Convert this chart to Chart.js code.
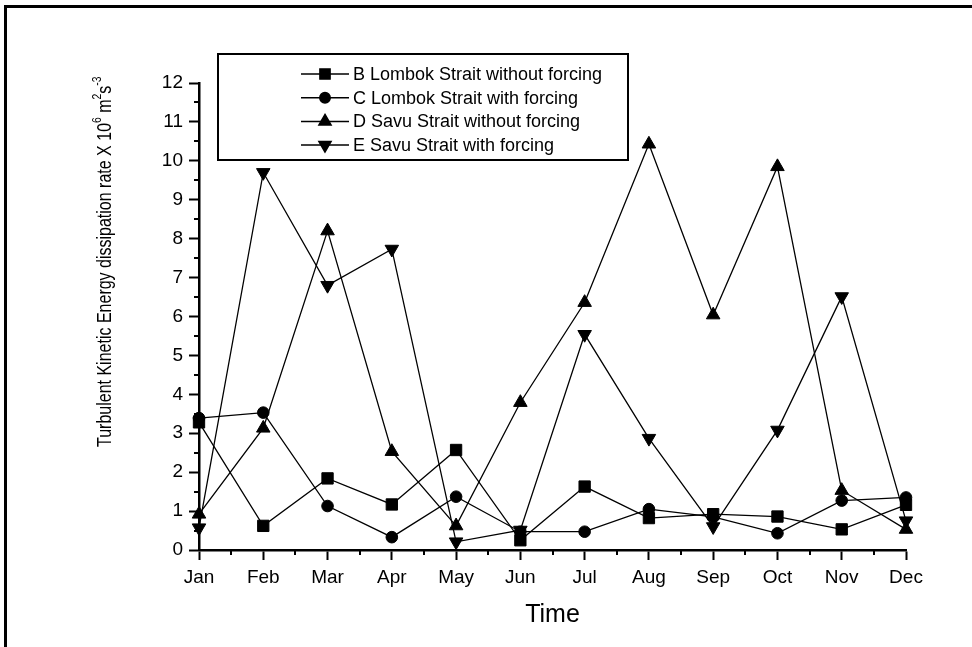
<!DOCTYPE html>
<html>
<head>
<meta charset="utf-8">
<title>Turbulent kinetic energy dissipation rate</title>
<script src="https://cdn.jsdelivr.net/npm/chart.js@4/dist/chart.umd.min.js"></script>
<style>
  html, body { margin: 0; padding: 0; background: #fff; }
  #chart { display: block; }
</style>
</head>
<body>
<canvas id="chart" width="972" height="647"></canvas>
<script>
const months = ["Jan", "Feb", "Mar", "Apr", "May", "Jun", "Jul", "Aug", "Sep", "Oct", "Nov", "Dec"];
const lombokWithout = [3.28, 0.62, 1.84, 1.17, 2.57, 0.25, 1.63, 0.82, 0.92, 0.86, 0.53, 1.16];
const lombokWith = [3.39, 3.53, 1.13, 0.33, 1.37, 0.47, 0.47, 1.05, 0.85, 0.43, 1.27, 1.35];
const savuWithout = [0.92, 3.13, 8.2, 2.53, 0.62, 3.79, 6.36, 10.43, 6.04, 9.85, 1.53, 0.53];
const savuWith = [0.57, 9.7, 6.8, 7.73, 0.21, 0.51, 5.54, 2.87, 0.6, 3.08, 6.51, 0.75];
const yTicks = [0, 1, 2, 3, 4, 5, 6, 7, 8, 9, 10, 11, 12];

const FONT = "'Liberation Sans', Arial, sans-serif";
const INK = "#000";

function series(label, data, style, radius, rotation) {
  return {
    label,
    data,
    borderColor: INK,
    borderWidth: 1.3,
    backgroundColor: INK,
    pointStyle: style,
    pointRadius: radius,
    pointHoverRadius: radius,
    pointRotation: rotation || 0,
    pointBackgroundColor: INK,
    pointBorderColor: INK,
    pointBorderWidth: 1,
    tension: 0,
    clip: false
  };
}

// frame round the whole figure (top and left edges only, like the scan)
const framePlugin = {
  id: "frame",
  beforeDraw(chart) {
    const ctx = chart.ctx;
    ctx.save();
    ctx.fillStyle = "#fff";
    ctx.fillRect(0, 0, chart.width, chart.height);
    ctx.strokeStyle = INK;
    ctx.lineWidth = 3;
    ctx.beginPath();
    ctx.moveTo(5.5, chart.height);
    ctx.lineTo(5.5, 6.5);
    ctx.lineTo(chart.width, 6.5);
    ctx.stroke();
    ctx.restore();
  }
};

// half-step minor ticks on both axes
const minorTicks = {
  id: "minorTicks",
  afterDraw(chart) {
    const { ctx, scales: { x, y }, chartArea } = chart;
    ctx.save();
    ctx.strokeStyle = INK;
    ctx.lineWidth = 2;
    ctx.beginPath();
    for (let v = 0.5; v < 12; v += 1) {
      const py = Math.round(y.getPixelForValue(v));
      ctx.moveTo(chartArea.left - 5, py);
      ctx.lineTo(chartArea.left, py);
    }
    for (let i = 0; i < months.length - 1; i++) {
      const px = Math.round(x.getPixelForValue(i + 0.5));
      ctx.moveTo(px, chartArea.bottom);
      ctx.lineTo(px, chartArea.bottom + 5);
    }
    ctx.stroke();
    ctx.restore();
  }
};

// y title with real superscripts
const yTitle = {
  id: "yTitle",
  afterDraw(chart) {
    const ctx = chart.ctx;
    const ca = chart.chartArea;
    const parts = [
      ["Turbulent Kinetic Energy dissipation rate X 10", false],
      ["6", true],
      [" m", false],
      ["2", true],
      ["s", false],
      ["-3", true]
    ];
    ctx.save();
    ctx.translate(ca.left - 88, ca.bottom - 103);
    ctx.rotate(-Math.PI / 2);
    ctx.scale(0.8, 1);
    ctx.fillStyle = INK;
    ctx.textBaseline = "alphabetic";
    let cx = 0;
    parts.forEach(([txt, sup]) => {
      ctx.font = sup ? `13px ${FONT}` : `20px ${FONT}`;
      ctx.fillText(txt, cx, sup ? -10 : 0);
      cx += ctx.measureText(txt).width;
    });
    ctx.restore();
  }
};

// boxed legend with line-marker-line samples
const boxLegend = {
  id: "boxLegend",
  afterDraw(chart) {
    const ctx = chart.ctx;
    const ca = chart.chartArea;
    const x0 = ca.left + 19;
    const y0 = ca.top - 29;
    ctx.save();
    ctx.strokeStyle = INK;
    ctx.lineWidth = 2;
    ctx.strokeRect(x0, y0, 410, 106);
    chart.data.datasets.forEach((ds, i) => {
      const ry = y0 + 20 + i * 23.7;
      ctx.lineWidth = 1.5;
      ctx.beginPath();
      ctx.moveTo(x0 + 83, ry);
      ctx.lineTo(x0 + 131, ry);
      ctx.stroke();
      ctx.fillStyle = INK;
      Chart.helpers.drawPoint(ctx, {
        pointStyle: ds.pointStyle,
        rotation: ds.pointRotation,
        radius: ds.pointRadius * 0.9,
        borderWidth: 1
      }, x0 + 107, ry);
      ctx.font = `18px ${FONT}`;
      ctx.textBaseline = "middle";
      ctx.fillText(ds.label, x0 + 135, ry + 1);
    });
    ctx.restore();
  }
};

new Chart(document.getElementById("chart"), {
  type: "line",
  data: {
    labels: months,
    datasets: [
      series("B Lombok Strait without forcing", lombokWithout, "rect", 8),
      series("C Lombok Strait with forcing", lombokWith, "circle", 5.8),
      series("D Savu Strait without forcing", savuWithout, "triangle", 7.8),
      series("E Savu Strait with forcing", savuWith, "triangle", 7.8, 180)
    ]
  },
  options: {
    responsive: false,
    animation: false,
    devicePixelRatio: 1,
    layout: { padding: { top: 83, right: 66, left: 0, bottom: 0 } },
    plugins: {
      legend: { display: false },
      tooltip: { enabled: false }
    },
    scales: {
      x: {
        offset: false,
        grid: { drawOnChartArea: false, tickLength: 10, tickColor: INK, tickWidth: 2 },
        border: { color: INK, width: 2.5 },
        ticks: { color: INK, font: { family: FONT, size: 19 }, padding: 6, maxRotation: 0, autoSkip: false },
        title: { display: true, text: "Time", color: INK, font: { family: FONT, size: 25 }, padding: { top: 0, bottom: 17 } },
        afterFit: (s) => { s.height = 97; }
      },
      y: {
        min: 0,
        max: 12,
        afterBuildTicks: (s) => { s.ticks = yTicks.map((v) => ({ value: v })); },
        grid: { drawOnChartArea: false, tickLength: 10, tickColor: INK, tickWidth: 2 },
        border: { color: INK, width: 2.5 },
        ticks: { color: INK, font: { family: FONT, size: 19 }, padding: 6 },
        afterFit: (s) => { s.width = 199; }
      }
    }
  },
  plugins: [framePlugin, minorTicks, yTitle, boxLegend]
});
</script>
</body>
</html>
